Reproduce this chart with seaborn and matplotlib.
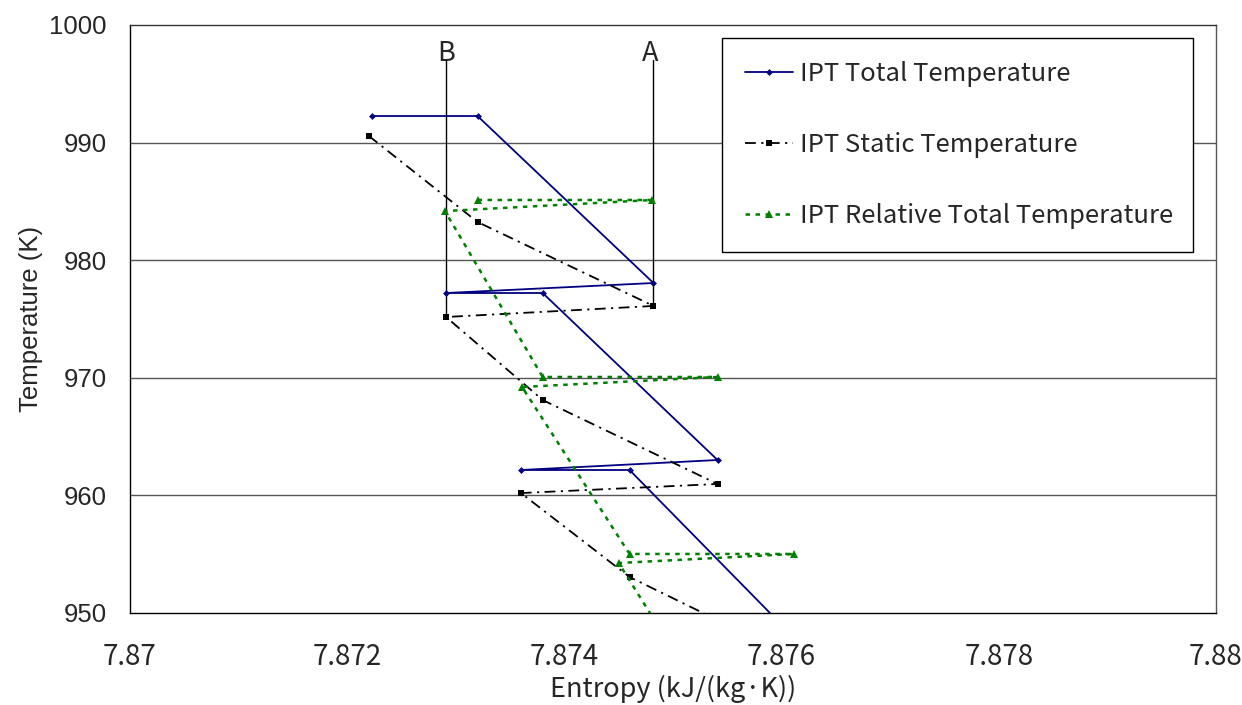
import matplotlib
matplotlib.use("Agg")
import matplotlib.pyplot as plt
import seaborn as sns
import pandas as pd

# entropy (kJ/(kg K)) and temperature (K)
total_s = [7.87223, 7.87320, 7.87482, 7.87291, 7.87380, 7.87541, 7.87360, 7.87460, 7.87611]
total_t = [992.26, 992.26, 978.06, 977.21, 977.21, 963.01, 962.16, 962.16, 947.96]

static_s = [7.87220, 7.87320, 7.87482, 7.87291, 7.87380, 7.87541, 7.87360, 7.87460, 7.87620]
static_t = [990.56, 983.25, 976.11, 975.17, 968.11, 960.97, 960.20, 953.06, 945.83]

rel_s = [7.87320, 7.87481, 7.87290, 7.87380, 7.87541, 7.87361, 7.87460, 7.87611, 7.87450, 7.87546]
rel_t = [985.12, 985.12, 984.18, 970.07, 970.07, 969.22, 955.02, 955.02, 954.25, 940.05]

# station markers A and B
station_names = ["A", "B"]
station_s = [7.87482, 7.87291]
station_t_low = [976.11, 975.17]
station_t_high = 997.0

series_names = ["IPT Total Temperature", "IPT Static Temperature",
                "IPT Relative Total Temperature"]

x_ticks = [7.87, 7.872, 7.874, 7.876, 7.878, 7.88]
x_tick_labels = ["7.87", "7.872", "7.874", "7.876", "7.878", "7.88"]
y_ticks = [950, 960, 970, 980, 990, 1000]

sns.set_style("white")
plt.rcParams['font.family'] = ['Liberation Sans', 'DejaVu Sans']
jp = ["Noto Sans CJK JP", "DejaVu Sans"]

fig = plt.figure(figsize=(12.42, 7.05), dpi=100)
ax = fig.add_axes([130 / 1242, 1 - 613 / 705, (1216 - 130) / 1242, (613 - 25) / 705])

for yy in y_ticks[1:-1]:
    ax.axhline(yy, color="#555555", lw=1.0, zorder=0)

# station lines
for name, s, lo in zip(station_names, station_s, station_t_low):
    ax.plot([s, s], [lo, station_t_high], color="black", lw=1.0, zorder=1)
    ax.text(s - 0.00003 if name == "A" else s, station_t_high - 0.6, name,
            ha="center", va="bottom", fontsize=19.5, family=jp)

df1 = pd.DataFrame({"s": total_s, "t": total_t})
df2 = pd.DataFrame({"s": static_s, "t": static_t})
df3 = pd.DataFrame({"s": rel_s, "t": rel_t})

sns.lineplot(data=df1, x="s", y="t", sort=False, ax=ax, color="#000080",
             lw=1.3, marker="D", markersize=3.5, markeredgewidth=0,
             label=series_names[0], zorder=3)
sns.lineplot(data=df2, x="s", y="t", sort=False, ax=ax, color="black",
             lw=1.3, linestyle=(0, (6, 3, 1.2, 3)), marker="s", markersize=4.5,
             markeredgewidth=0, label=series_names[1], zorder=3)
sns.lineplot(data=df3, x="s", y="t", sort=False, ax=ax, color="#008000",
             lw=1.8, linestyle=(0, (1.8, 2.2)), marker="^", markersize=6,
             markeredgewidth=0, label=series_names[2], zorder=3)

ax.set_xlim(7.87, 7.88)
ax.set_ylim(950, 1000)
ax.set_xticks(x_ticks)
ax.set_xticklabels(x_tick_labels, family=jp, fontsize=20)
ax.set_yticks(y_ticks)
ax.set_yticklabels([str(v) for v in y_ticks], fontsize=18.5)
ax.tick_params(axis="x", direction="in", length=8, width=1, pad=21, color="#444444")
ax.tick_params(axis="y", length=0, pad=17)

for sp in ax.spines.values():
    sp.set_color("black")
    sp.set_linewidth(1.0)
    sp.set_visible(True)
ax.spines["right"].set_color("#555555")
ax.spines["top"].set_color("#333333")

ax.set_xlabel("Entropy (kJ/(kg\u00b7K))", fontsize=19.5, family=jp, labelpad=2)
ax.set_ylabel("Temperature (K)", fontsize=18.5, labelpad=4)

leg = ax.legend(loc="upper left", bbox_to_anchor=(722 / 1242, 1 - 45 / 705,
                (1193 - 722) / 1242, 0.01),
                bbox_transform=fig.transFigure, mode="expand",
                frameon=True, fancybox=False, labelspacing=1.75,
                borderpad=0.9, handlelength=1.85, handletextpad=0.3,
                borderaxespad=0, prop={"family": jp, "size": 18.5})
leg.get_frame().set_edgecolor("black")
leg.get_frame().set_linewidth(1.0)
leg.get_frame().set_alpha(1)

fig.savefig("out.png", dpi=100)
